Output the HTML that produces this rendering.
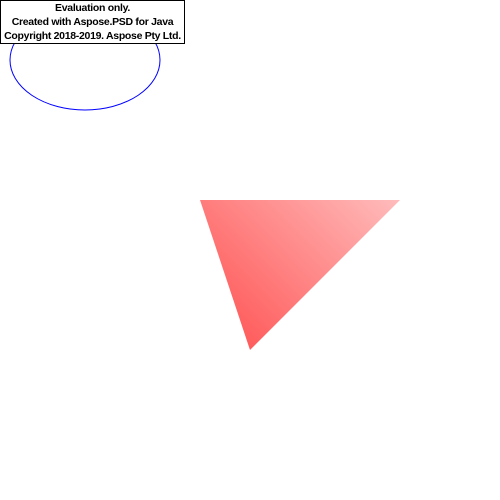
<!DOCTYPE html>
<html><head><style>
html,body{margin:0;padding:0;width:500px;height:500px;background:#fff;overflow:hidden}
#wm{position:absolute;left:0;top:0;width:183px;height:42px;border:1px solid #000;background:#fff;font-family:"Liberation Sans",sans-serif;font-weight:bold;font-size:10.5px;line-height:14px;text-align:center;white-space:nowrap;letter-spacing:-0.3px;overflow:hidden}
</style></head><body>
<svg width="500" height="500" style="position:absolute;left:0;top:0">
<defs><linearGradient id="g" x1="250" y1="350" x2="400" y2="200" gradientUnits="userSpaceOnUse">
<stop offset="0" stop-color="#ff5c5c"/><stop offset="1" stop-color="#ffbcbc"/></linearGradient></defs>
<ellipse cx="85" cy="60" rx="75" ry="50" fill="none" stroke="#0000ff" stroke-width="1"/>
<polygon points="200,200 400,200 250,350" fill="url(#g)"/>
</svg>
<div id="wm">
<div>Evaluation only.</div>
<div>Created with Aspose.PSD for Java</div>
<div>Copyright 2018-2019. Aspose Pty Ltd.</div>
</div>
</body></html>
